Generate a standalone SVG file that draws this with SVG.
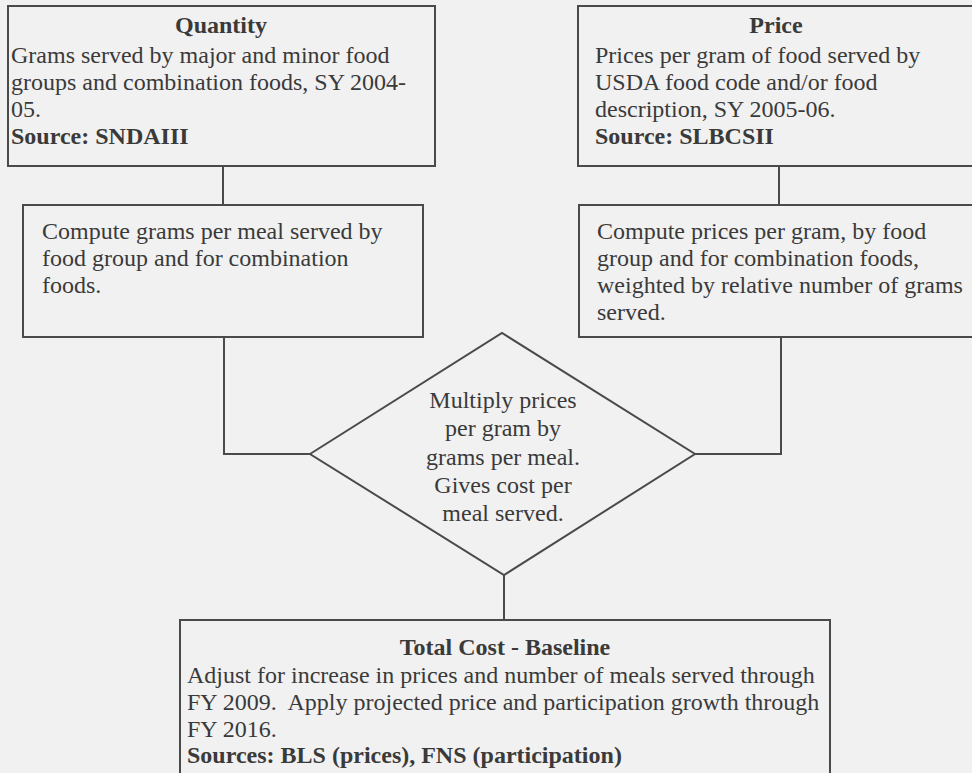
<svg xmlns="http://www.w3.org/2000/svg" width="972" height="773" viewBox="0 0 972 773">
<style>
.bg{fill:#f1f1f1}
.box{fill:#f1f1f1;stroke:#4a4a4a;stroke-width:2}
.ln{fill:none;stroke:#4a4a4a;stroke-width:2}
text{font-family:"Liberation Serif","Times New Roman",serif;font-size:24px;fill:#3a3a3a}
.b{font-weight:bold}
.c{text-anchor:middle}
</style>
<rect class="bg" x="0" y="0" width="972" height="773"/>
<g id="connectors">
<polyline class="ln" points="223,166 223,205"/>
<polyline class="ln" points="224,337 224,454 310,454"/>
<polyline class="ln" points="779,166 779,205"/>
<polyline class="ln" points="781,337 781,454 695,454"/>
<polyline class="ln" points="504,575 504,620"/>
</g>
<g id="quantity">
<rect class="box" x="8" y="6" width="427" height="160"/>
<text class="b c" x="221" y="33">Quantity</text>
<text x="11" y="63">Grams served by major and minor food</text>
<text x="11" y="90">groups and combination foods, SY 2004-</text>
<text x="11" y="117">05.</text>
<text class="b" x="11" y="144">Source: SNDAIII</text>
</g>
<g id="price">
<rect class="box" x="578" y="6" width="400" height="160"/>
<text class="b c" x="776" y="33">Price</text>
<text x="595" y="63">Prices per gram of food served by</text>
<text x="595" y="90">USDA food code and/or food</text>
<text x="595" y="117">description, SY 2005-06.</text>
<text class="b" x="595" y="144">Source: SLBCSII</text>
</g>
<g id="grams-per-meal">
<rect class="box" x="23" y="205" width="400" height="132"/>
<text x="42" y="239">Compute grams per meal served by</text>
<text x="42" y="266">food group and for combination</text>
<text x="42" y="293">foods.</text>
</g>
<g id="prices-per-gram">
<rect class="box" x="579" y="205" width="400" height="132"/>
<text x="597" y="239">Compute prices per gram, by food</text>
<text x="597" y="266">group and for combination foods,</text>
<text x="597" y="293">weighted by relative number of grams</text>
<text x="597" y="320">served.</text>
</g>
<g id="multiply">
<polygon class="box" points="310,454 502,333 695,454 504,575"/>
<text class="c" x="503" y="408">Multiply prices</text>
<text class="c" x="503" y="436">per gram by</text>
<text class="c" x="503" y="465">grams per meal.</text>
<text class="c" x="503" y="493">Gives cost per</text>
<text class="c" x="503" y="521">meal served.</text>
</g>
<g id="total-cost">
<rect class="box" x="180" y="620" width="650" height="170"/>
<text class="b c" x="505" y="655">Total Cost - Baseline</text>
<text x="187" y="683">Adjust for increase in prices and number of meals served through</text>
<text x="187" y="710" xml:space="preserve">FY 2009.  Apply projected price and participation growth through</text>
<text x="187" y="737">FY 2016.</text>
<text class="b" x="187" y="763">Sources: BLS (prices), FNS (participation)</text>
</g>
</svg>
